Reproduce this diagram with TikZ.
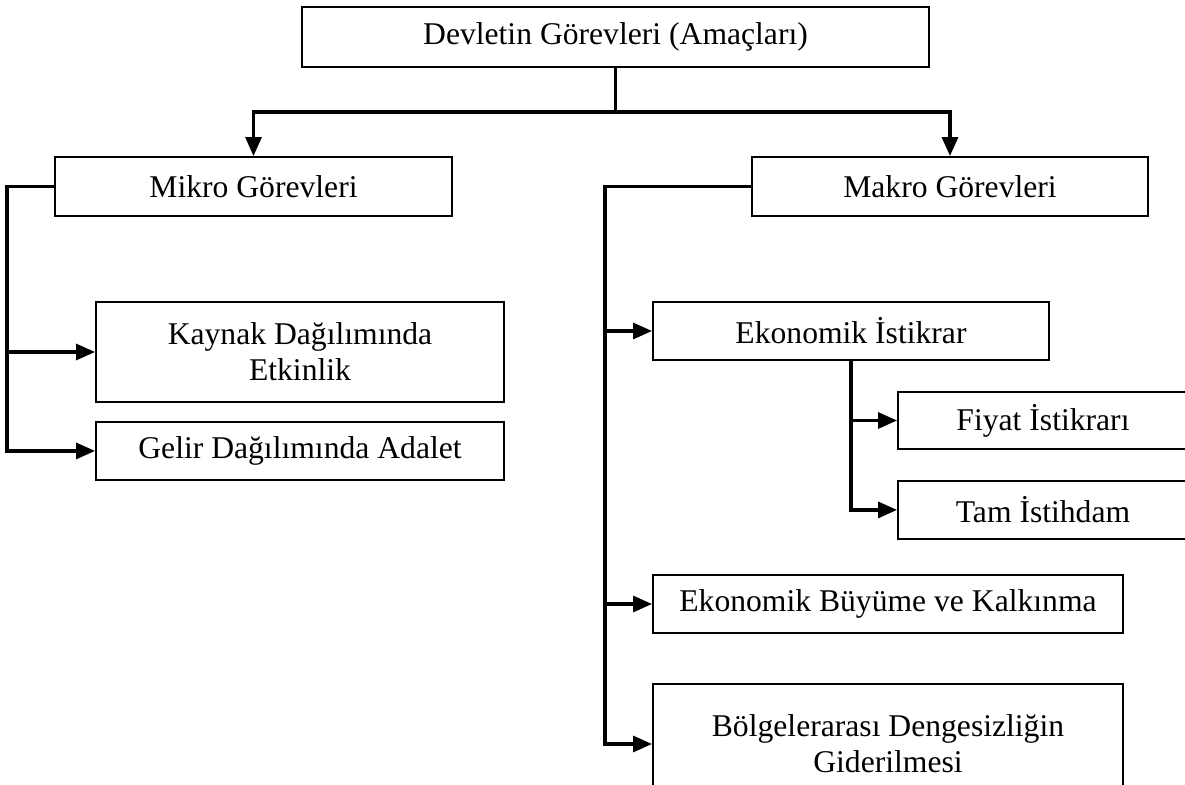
\documentclass[tikz,border=0pt]{standalone}
\usepackage{fontspec}
\setmainfont{Liberation Serif}
\usetikzlibrary{positioning,arrows.meta}

\begin{document}
\begin{tikzpicture}[x=0.1mm, y=-0.1mm, node distance=3mm,
  every node/.style={font=\fontsize{9}{10.3}\selectfont},
  kutu/.style={draw=black, line width=0.55pt, align=center, inner sep=0pt, minimum height=5.8mm},
  bag/.style={line width=0.9pt},
  ok/.style={bag, -{Triangle[length=1.9mm,width=1.6mm]}}]
\clip (0,0) rectangle (1185,785);
\fill[white] (0,0) rectangle (1185,785);
\node[kutu, minimum width=62.7mm, minimum height=6mm] (gorev) at (615.5,37) {Devletin Görevleri (Amaçları)};
\node[kutu, minimum width=39.7mm, minimum height=5.9mm] (mikro) at (253.5,186.5) {Mikro Görevleri};
\node[kutu, minimum width=39.6mm, minimum height=5.9mm] (makro) at (950,186.5) {Makro Görevleri};
\node[kutu, minimum width=40.8mm, minimum height=10mm] (kaynak) at (300,352) {Kaynak Dağılımında\\Etkinlik};
\node[kutu, minimum width=40.8mm, below=1.8mm of kaynak] (gelir) {Gelir Dağılımında Adalet};
\node[kutu, minimum width=39.6mm] (ekon) at (851,331) {Ekonomik İstikrar};
\node[kutu, minimum width=29mm, minimum height=5.7mm] (fiyat) at (1043,420.5) {Fiyat İstikrarı};
\node[kutu, minimum width=29mm, below=of fiyat] (tam) {Tam İstihdam};
\node[kutu, minimum width=47mm] (buyume) at (888,604) {Ekonomik Büyüme ve Kalkınma};
\node[kutu, minimum width=47mm, minimum height=12mm] (bolge) at (888,744) {Bölgelerarası Dengesizliğin\\Giderilmesi};
\coordinate (ayrim) at (615.5,112);
\coordinate (mikrosol) at (7,186.5);
\coordinate (makrosol) at (605,186.5);
\draw[bag] (gorev.south) -- (ayrim);
\draw[ok] (ayrim) -| (mikro.north);
\draw[ok] (ayrim) -| (makro.north);
\draw[ok] (mikro.west) -- (mikrosol) |- (gelir.west);
\draw[ok] (mikrosol |- kaynak.west) -- (kaynak.west);
\draw[ok] (makro.west) -- (makrosol) |- (bolge.west);
\draw[ok] (makrosol |- ekon.west) -- (ekon.west);
\draw[ok] (makrosol |- buyume.west) -- (buyume.west);
\draw[ok] (ekon.south) |- (tam.west);
\draw[ok] (ekon.south |- fiyat.west) -- (fiyat.west);
\end{tikzpicture}
\end{document}
